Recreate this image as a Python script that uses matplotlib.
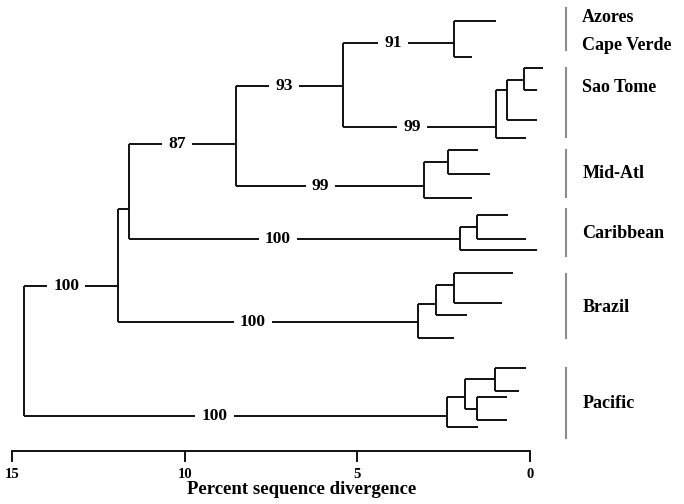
import matplotlib
matplotlib.use("Agg")
import matplotlib.pyplot as plt

# tree nodes: id, height (percent divergence), row position, parent, bootstrap
node_ids = [
    "root", "n1", "n2", "n3", "n4",
    "azo", "azo_t1", "azo_t2",
    "sao", "sao_a", "sao_b", "sao_t1", "sao_t2", "sao_t3", "sao_t4",
    "mid", "mid_a", "mid_t1", "mid_t2", "mid_t3",
    "car", "car_a", "car_t1", "car_t2", "car_t3",
    "bra", "bra_a", "bra_b", "bra_t1", "bra_t2", "bra_t3", "bra_t4",
    "pac", "pac_a", "pac_b", "pac_t1", "pac_t2", "pac_c", "pac_t3", "pac_t4", "pac_t5",
]
node_height = [
    14.65, 11.93, 11.61, 8.51, 5.42,
    2.20, 0.98, 1.68,
    0.98, 0.67, 0.17, -0.38, -0.20, -0.20, 0.12,
    3.07, 2.37, 1.51, 1.16, 1.68,
    2.03, 1.53, 0.64, 0.12, -0.20,
    3.24, 2.72, 2.20, 0.49, 0.81, 1.82, 2.20,
    2.40, 1.88, 1.01, 0.12, 0.32, 1.53, 0.67, 0.67, 1.51,
]
node_row = [
    None, 286, 209, 144, 86,
    43, 21, 57,
    127, 90, 80, 68, 90, 120, 138,
    186, 162, 150, 174, 198,
    239, 227, 215, 239, 250,
    322, 304, 285, 273, 303, 315, 338,
    416, 397, 379, 368, 391, 409, 397, 420, 427,
]
node_parent = [
    None, "root", "n1", "n2", "n3",
    "n4", "azo", "azo",
    "n4", "sao", "sao_a", "sao_b", "sao_b", "sao_a", "sao",
    "n3", "mid", "mid_a", "mid_a", "mid",
    "n2", "car", "car_a", "car_a", "car",
    "n1", "bra", "bra_a", "bra_b", "bra_b", "bra_a", "bra",
    "root", "pac", "pac_a", "pac_b", "pac_b", "pac_a", "pac_c", "pac_c", "pac",
]
node_support = {
    "n1": 100, "n3": 87, "n4": 93, "azo": 91, "sao": 99,
    "mid": 99, "car": 100, "bra": 100, "pac": 100,
}

clade_labels = ["Azores", "Cape Verde", "Sao Tome", "Mid-Atl", "Caribbean", "Brazil", "Pacific"]
clade_label_rows = [18, 45, 88, 174, 234, 308, 404]
clade_bar_top = [8, 68, 150, 209, 274, 368]
clade_bar_bottom = [50, 137, 197, 256, 338, 438]

scale_ticks = [15, 10, 5, 0]

plt.rcParams["font.family"] = ["Liberation Serif", "DejaVu Serif"]
plt.rcParams["font.weight"] = "bold"

fig = plt.figure(figsize=(6.84, 5.04), dpi=100)
ax = fig.add_axes([12 / 684, 0, 518 / 684, 1])
ax.set_xlim(15, 0)
ax.set_ylim(504, 0)

height = dict(zip(node_ids, node_height))
row = dict(zip(node_ids, node_row))
parent = dict(zip(node_ids, node_parent))
children = {}
for nid, par in parent.items():
    if par is not None:
        children.setdefault(par, []).append(nid)

line_kw = dict(color="#111111", linewidth=1.4, solid_capstyle="butt", clip_on=False)

# horizontal branches with bootstrap values
for nid in node_ids:
    par = parent[nid]
    if par is None:
        continue
    x0, x1 = height[par], height[nid]
    ax.plot([x0, x1], [row[nid], row[nid]], **line_kw)
    if nid in node_support:
        xm = x0 + 0.45 * (x1 - x0)
        ax.text(xm, row[nid], str(node_support[nid]), ha="center", va="center",
                fontsize=12.5, fontweight="bold", zorder=3,
                bbox=dict(boxstyle="square,pad=0.35", fc="white", ec="none"))

# vertical connectors
for nid, kids in children.items():
    ys = [row[k] for k in kids]
    ax.plot([height[nid], height[nid]], [min(ys), max(ys)], **line_kw)

# clade bars and names
bar_x = -1.04
for top, bot in zip(clade_bar_top, clade_bar_bottom):
    ax.plot([bar_x, bar_x], [top, bot], color="#8c8c8c", linewidth=1.5, clip_on=False)
for name, y in zip(clade_labels, clade_label_rows):
    ax.text(-1.51, y, name, ha="left", va="center", fontsize=13, fontweight="bold",
            clip_on=False)

# scale axis
for side in ["top", "left", "right"]:
    ax.spines[side].set_visible(False)
ax.spines["bottom"].set_position(("data", 451))
ax.spines["bottom"].set_linewidth(1.3)
ax.set_yticks([])
ax.set_xticks(scale_ticks)
ax.set_xticklabels([str(t) for t in scale_ticks], fontsize=10.5, fontweight="bold")
ax.tick_params(axis="x", direction="out", length=8, width=1.3, pad=4)
ax.set_xlabel("Percent sequence divergence", fontsize=13.5, fontweight="bold")
ax.xaxis.label.set_va("center")
ax.xaxis.set_label_coords(0.56, 1 - 490 / 504)

fig.savefig("out.png", dpi=100)
